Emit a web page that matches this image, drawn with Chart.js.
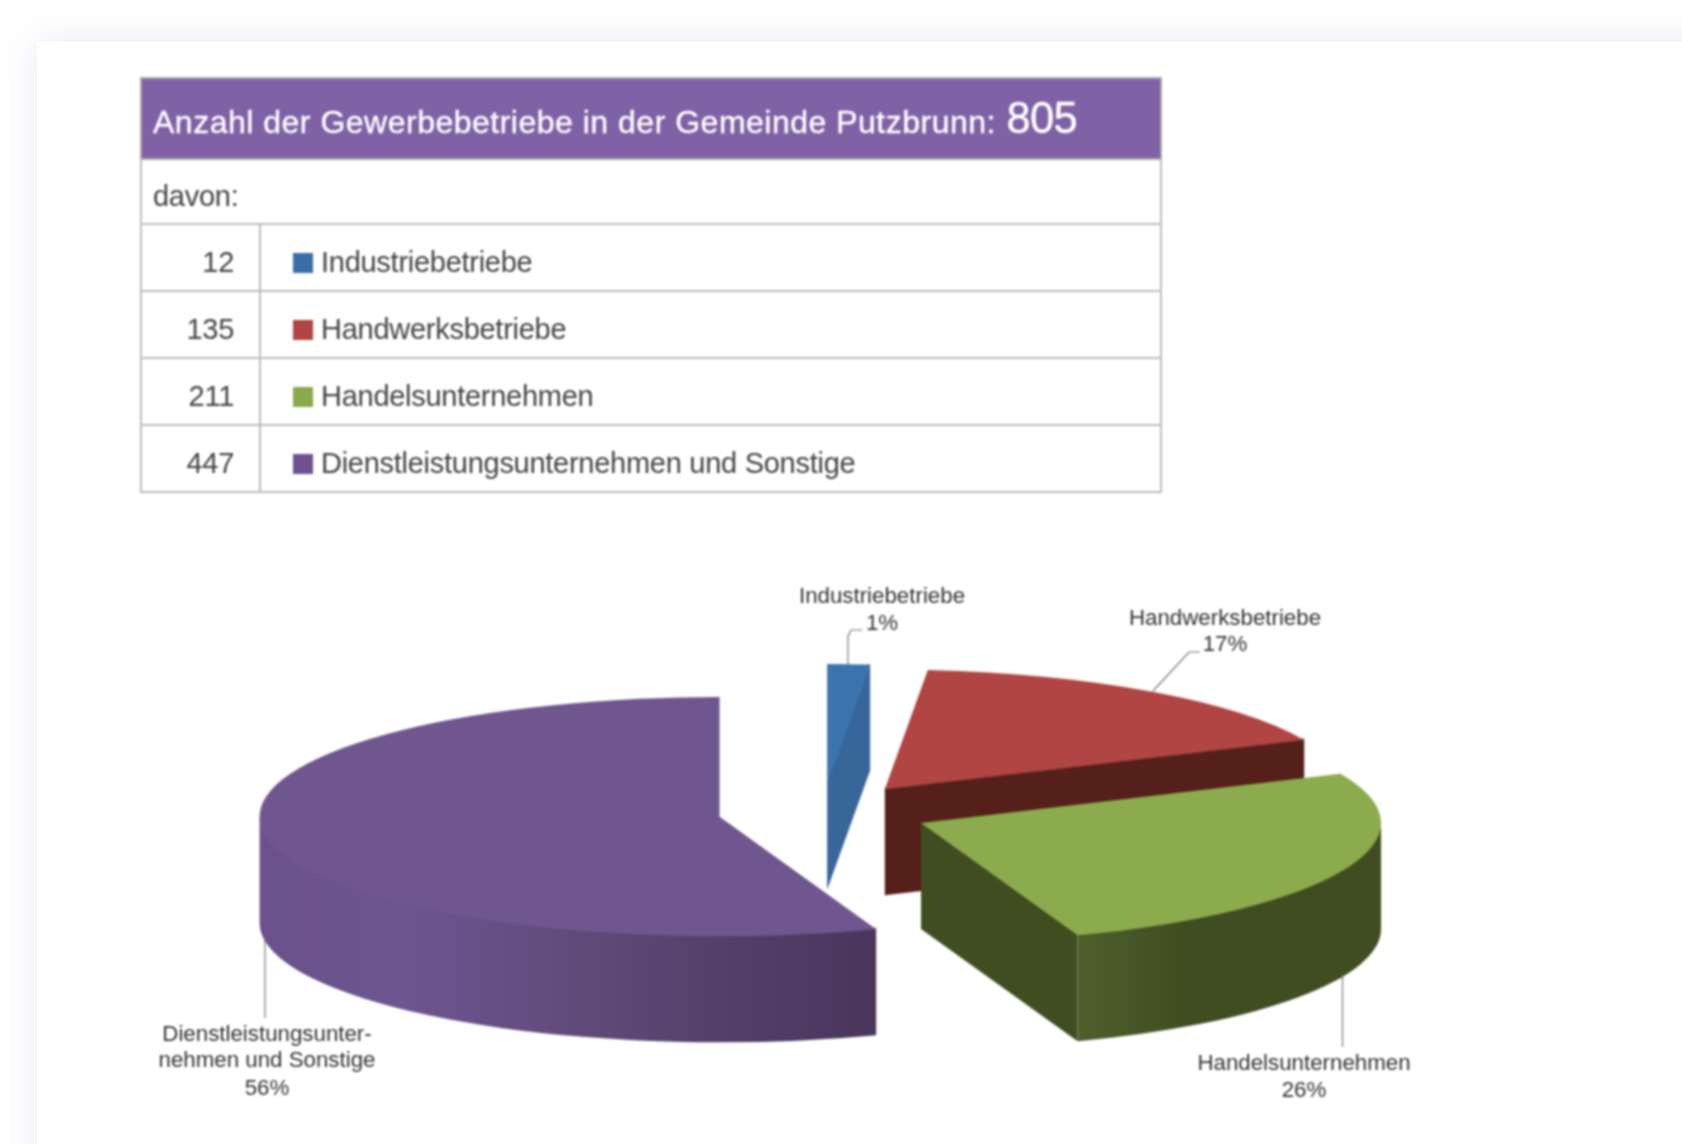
<!DOCTYPE html>
<html lang="de">
<head>
<meta charset="utf-8">
<title>Gewerbebetriebe Putzbrunn</title>
<script src="https://cdn.jsdelivr.net/npm/chart.js@4"></script>
<style>
  html, body { margin: 0; padding: 0; width: 1682px; height: 1144px; overflow: hidden; background: #fff; }
  body { font-family: "Liberation Sans", Arial, sans-serif; color: #444; position: relative; }
  #card { position: absolute; left: 37px; top: 42px; width: 1700px; height: 1200px; background: #fff; box-shadow: 0 0 34px rgba(170, 180, 215, 0.28); }
  #sheet { position: absolute; left: 0; top: 0; width: 1682px; height: 1144px; filter: blur(0.8px); }
  table { position: absolute; left: 140px; top: 77px; width: 1022px; border-collapse: collapse; table-layout: fixed; font-size: 29px; letter-spacing: -0.27px; }
  td { border: 2px solid #bdbdbd; padding: 0; height: 67px; box-sizing: border-box; }
  td.head { background: #7f61a6; color: #fff; height: 81px; padding: 0 0 0 11px; font-size: 32px; letter-spacing: 0.5px; border-color: #aaa; -webkit-text-stroke: 0.35px #fff; }
  td.head span { font-size: 43.5px; letter-spacing: -0.6px; margin-left: 1px; }
  td.sub { height: 65px; padding-left: 11px; padding-top: 9px; }
  td.num { text-align: right; padding-right: 25px; padding-top: 9px; }
  td.name { padding-left: 32px; padding-top: 9px; }
  td.name i { display: inline-block; width: 20px; height: 20px; margin-right: 8px; vertical-align: -1px; }
  canvas { position: absolute; left: 0; top: 0; }
</style>
</head>
<body>
<div id="card"></div>
<div id="sheet">
  <table>
    <colgroup><col style="width:119px"><col></colgroup>
    <tbody id="rows"></tbody>
  </table>
  <canvas id="pie" width="1682" height="1144"></canvas>
</div>
<script>
// Data
const categories = ["Industriebetriebe", "Handwerksbetriebe", "Handelsunternehmen", "Dienstleistungsunternehmen und Sonstige"];
const counts = [12, 135, 211, 447];
const percentLabels = ["1%", "17%", "26%", "56%"];
const totalCount = 805;

// Colours of each slice: table square, top face, cut face
const swatchColors = ["#3a6ea8", "#b04543", "#88aa4c", "#6f5191"];
const topColors = ["#3a74ae", "#b04543", "#8bab4d", "#70568e"];
const faceColors = ["#36669a", "#552019", "#404d20", "#5d4676"];
// Shading of the curved outer wall, left to right
const wallStops = [
  [],
  [],
  [[0, "#4e5f2c"], [0.35, "#404d20"], [1, "#404d20"]],
  [[0, "#6a5189"], [0.23, "#6d5590"], [0.55, "#5f4977"], [0.8, "#513d67"], [1, "#4a365c"]],
];

// Look of the fake 3D pie
const explode = [109, 108, 107.5, 104];
const squash = 0.26;
const depth = 106;
const radius = 460;
const seamOverlap = 1.5; // walls tuck under the top face so no white line shows

// Callouts: text lines, centre x, baselines and leader line
const callouts = [
  { lines: ["Industriebetriebe", percentLabels[0]], x: [882, 882], y: [603, 630], leader: [[848, 665], [848, 636], [851, 630], [862, 630]] },
  { lines: ["Handwerksbetriebe", percentLabels[1]], x: [1225, 1225], y: [625, 651], leader: [[1153, 691], [1189, 652], [1200, 652]] },
  { lines: ["Handelsunternehmen", percentLabels[2]], x: [1304, 1304], y: [1070, 1097], leader: [[1342.5, 975], [1342.5, 1047]] },
  { lines: ["Dienstleistungsunter-", "nehmen und Sonstige", percentLabels[3]], x: [267, 267, 267], y: [1041, 1067, 1095], leader: [[265, 940], [265, 1018]] },
];

// Build the table from the arrays
const rows = document.getElementById("rows");
rows.innerHTML = `
  <tr><td class="head" colspan="2">Anzahl der Gewerbebetriebe in der Gemeinde Putzbrunn: <span>${totalCount}</span></td></tr>
  <tr><td class="sub" colspan="2">davon:</td></tr>`;
categories.forEach((name, i) => {
  const tr = document.createElement("tr");
  tr.innerHTML = `<td class="num">${counts[i]}</td><td class="name"><i style="background:${swatchColors[i]}"></i>${name}</td>`;
  rows.appendChild(tr);
});

// Where a slice really sits once it is pulled out and flattened
const sliceCentre = (arc, i) => {
  const mid = (arc.startAngle + arc.endAngle) / 2;
  return {
    x: arc.x + Math.cos(mid) * explode[i],
    y: arc.y + Math.sin(mid) * explode[i] * squash,
  };
};

// Part of the slice's rim that faces the viewer (canvas angles 0..PI)
const frontSpan = (arc) => {
  const from = Math.max(arc.startAngle, 0);
  const to = Math.min(arc.endAngle, Math.PI);
  return to > from ? [from, to] : null;
};

const drawCutFace = (ctx, c, r, angle, color) => {
  const ex = c.x + Math.cos(angle) * r;
  const ey = c.y + Math.sin(angle) * r * squash;
  ctx.fillStyle = color;
  ctx.beginPath();
  ctx.moveTo(c.x, c.y - seamOverlap);
  ctx.lineTo(ex, ey - seamOverlap);
  ctx.lineTo(ex, ey + depth);
  ctx.lineTo(c.x, c.y + depth);
  ctx.closePath();
  ctx.fill();
};

const drawOuterWall = (ctx, c, r, span, stops) => {
  const left = c.x + Math.cos(span[1]) * r;
  const right = c.x + Math.cos(span[0]) * r;
  const shade = ctx.createLinearGradient(left, 0, right, 0);
  stops.forEach(([at, color]) => shade.addColorStop(at, color));
  ctx.fillStyle = shade;
  ctx.beginPath();
  ctx.ellipse(c.x, c.y - seamOverlap, r, r * squash, 0, span[0], span[1]);
  ctx.ellipse(c.x, c.y + depth, r, r * squash, 0, span[1], span[0], true);
  ctx.closePath();
  ctx.fill();
};

const pie3d = {
  id: "pie3d",
  // Side walls go under all the top faces. Only the end cut of a slice faces the viewer here
  beforeDatasetsDraw(chart) {
    const { ctx } = chart;
    chart.getDatasetMeta(0).data.forEach((arc, i) => {
      const c = sliceCentre(arc, i);
      drawCutFace(ctx, c, arc.outerRadius, arc.endAngle, faceColors[i]);
      const span = frontSpan(arc);
      if (span && wallStops[i].length) drawOuterWall(ctx, c, arc.outerRadius, span, wallStops[i]);
    });
  },
  // Top faces: the library's own arcs, flattened and moved apart
  beforeDatasetDraw(chart) {
    const { ctx } = chart;
    chart.getDatasetMeta(0).data.forEach((arc, i) => {
      const c = sliceCentre(arc, i);
      ctx.save();
      ctx.translate(c.x, c.y);
      ctx.scale(1, squash);
      ctx.translate(-arc.x, -arc.y);
      arc.draw(ctx);
      ctx.restore();
    });
    return false;
  },
  afterDatasetsDraw(chart) {
    const { ctx } = chart;
    ctx.save();
    ctx.strokeStyle = "#777";
    ctx.lineWidth = 1.2;
    ctx.fillStyle = "#333";
    ctx.font = '22.3px "Liberation Sans", Arial, sans-serif';
    ctx.textAlign = "center";
    callouts.forEach((item) => {
      ctx.beginPath();
      item.leader.forEach(([x, y], n) => (n ? ctx.lineTo(x, y) : ctx.moveTo(x, y)));
      ctx.stroke();
      item.lines.forEach((line, n) => ctx.fillText(line, item.x[n], item.y[n]));
    });
    ctx.restore();
  },
};

new Chart(document.getElementById("pie").getContext("2d"), {
  type: "pie",
  data: {
    labels: categories,
    datasets: [{ data: counts, backgroundColor: topColors, borderWidth: 0 }],
  },
  options: {
    responsive: false,
    animation: false,
    events: [],
    radius: radius,
    layout: { padding: { left: 0, right: 38, top: 480, bottom: 0 } },
    plugins: { legend: { display: false }, tooltip: { enabled: false } },
  },
  plugins: [pie3d],
});
</script>
</body>
</html>
